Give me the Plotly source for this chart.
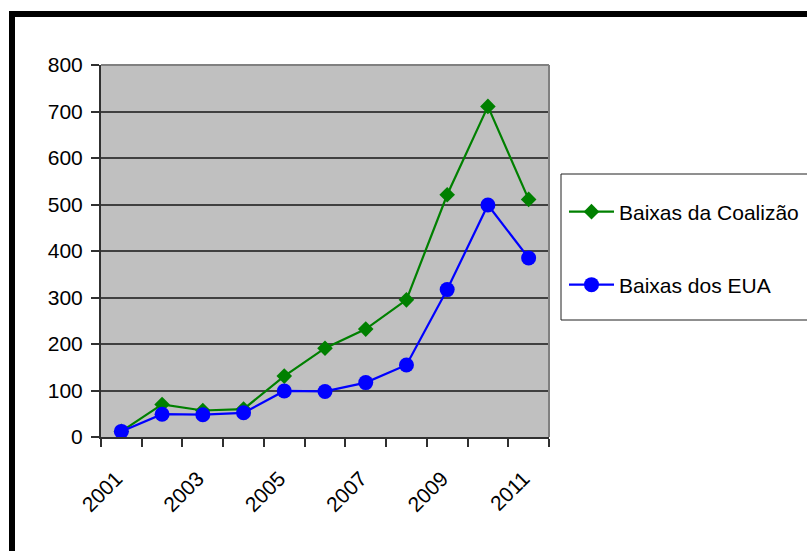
import plotly.graph_objects as go

years = [2001, 2002, 2003, 2004, 2005, 2006, 2007, 2008, 2009, 2010, 2011]
coalizao = [12, 70, 57, 60, 131, 191, 232, 295, 521, 711, 511]
eua = [12, 49, 48, 52, 99, 98, 117, 155, 317, 499, 385]
tick_years = [2001, 2003, 2005, 2007, 2009, 2011]
boundaries = [y - 0.5 for y in years] + [years[-1] + 0.5]
yticks = [0, 100, 200, 300, 400, 500, 600, 700, 800]

W, H = 807, 551
def px(x): return x / W
def py(y): return 1 - y / H

FONT = "Liberation Sans, Arial, sans-serif"

fig = go.Figure()
fig.add_trace(go.Scatter(
    x=years, y=coalizao, name="Baixas da Coalizão", mode="lines+markers",
    line=dict(color="#008000", width=2.2),
    marker=dict(symbol="diamond", size=12, color="#008000"),
    legend="legend"))
fig.add_trace(go.Scatter(
    x=years, y=eua, name="Baixas dos EUA", mode="lines+markers",
    line=dict(color="#0000FF", width=2.2),
    marker=dict(symbol="circle", size=15, color="#0000FF"),
    legend="legend2"))

shapes = [
    dict(type="line", xref="paper", yref="paper", x0=px(101), x1=px(549), y0=py(65), y1=py(65),
         line=dict(color="#808080", width=2)),
    dict(type="line", xref="paper", yref="paper", x0=px(549), x1=px(549), y0=py(65), y1=py(437),
         line=dict(color="#808080", width=2)),
    dict(type="line", xref="paper", yref="paper", x0=px(9), x1=1.02, y0=py(14), y1=py(14),
         line=dict(color="black", width=6)),
    dict(type="line", xref="paper", yref="paper", x0=px(12), x1=px(12), y0=py(11), y1=-0.02,
         line=dict(color="black", width=6)),
    dict(type="rect", xref="paper", yref="paper", x0=px(561), x1=1.02, y0=py(320), y1=py(174),
         line=dict(color="#202020", width=1), fillcolor="white", layer="below"),
]

fig.update_layout(
    template="none",
    width=W, height=H,
    margin=dict(l=0, r=0, t=0, b=0, autoexpand=False),
    paper_bgcolor="white", plot_bgcolor="#C0C0C0",
    font=dict(family=FONT, size=20, color="black"),
    showlegend=True,
    legend=dict(x=px(564), y=py(212), xanchor="left", yanchor="middle",
                bgcolor="rgba(0,0,0,0)", borderwidth=0, font=dict(size=21, family=FONT),
                itemwidth=45),
    legend2=dict(x=px(564), y=py(285), xanchor="left", yanchor="middle",
                 bgcolor="rgba(0,0,0,0)", borderwidth=0, font=dict(size=21, family=FONT),
                 itemwidth=45),
    shapes=shapes,
    xaxis=dict(
        domain=[px(101), px(549)], range=[boundaries[0], boundaries[-1]],
        tickmode="array", tickvals=tick_years, ticktext=[str(t) for t in tick_years],
        tickangle=-45, ticks="", showgrid=False, zeroline=False, automargin=False,
        showline=True, linecolor="#303030", linewidth=2,
        ticklabelstandoff=19, ticklabelshift=-5,
        minor=dict(tickmode="array", tickvals=boundaries, ticks="outside", ticklen=8,
                   tickcolor="#303030", tickwidth=2, showgrid=False),
        tickfont=dict(size=21, family=FONT),
    ),
    yaxis=dict(
        domain=[py(437), py(65)], range=[0, 800],
        tickmode="array", tickvals=yticks, automargin=False,
        showgrid=True, gridcolor="#404040", gridwidth=2, zeroline=False,
        showline=True, linecolor="#303030", linewidth=2,
        ticks="outside", ticklen=8, tickcolor="#303030", tickwidth=2,
        ticklabelstandoff=4,
        tickfont=dict(size=21, family=FONT),
    ),
)

fig.write_html("out.html")
